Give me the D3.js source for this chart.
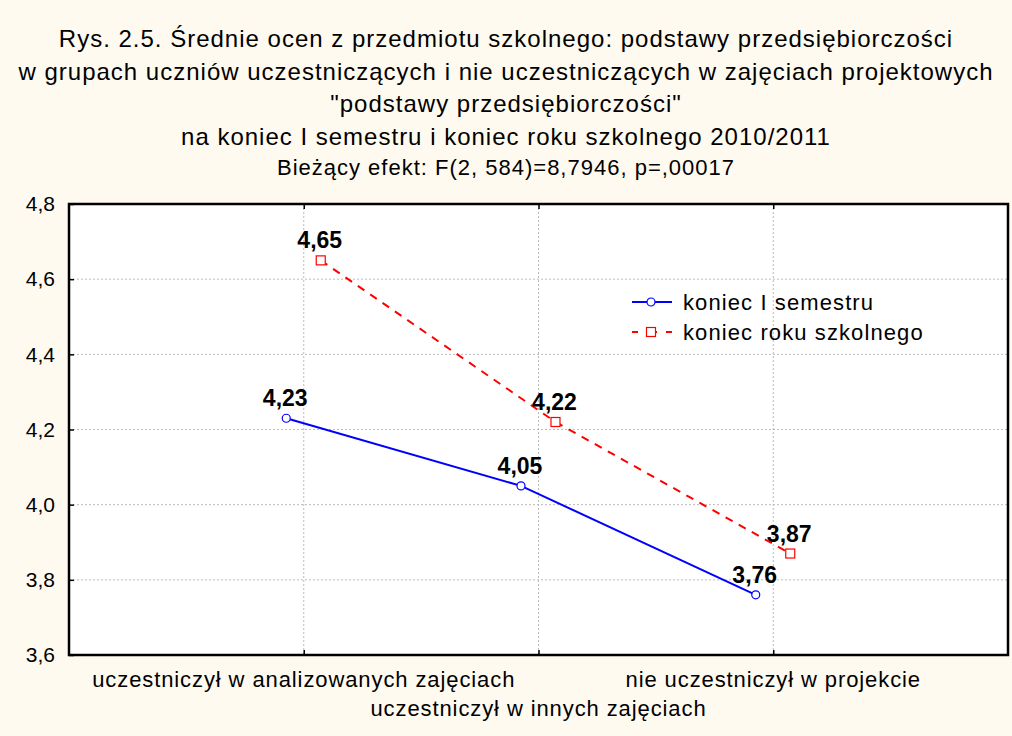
<!DOCTYPE html>
<html>
<head>
<meta charset="utf-8">
<script src="https://cdn.jsdelivr.net/npm/d3@7"></script>
<style>
  body { margin: 0; background: #fffaf0; }
  svg { display: block; font-family: "Liberation Sans", Arial, sans-serif; }
</style>
</head>
<body>
<svg id="chart" width="1012" height="736"></svg>
<script>
const titleLines = [
  "Rys. 2.5. Średnie ocen z przedmiotu szkolnego: podstawy przedsiębiorczości",
  "w grupach uczniów uczestniczących i nie uczestniczących w zajęciach projektowych",
  "\"podstawy przedsiębiorczości\"",
  "na koniec I semestru i koniec roku szkolnego 2010/2011"
];
const subtitle = "Bieżący efekt: F(2, 584)=8,7946, p=,00017";

const categories = [
  "uczestniczył w analizowanych zajęciach",
  "uczestniczył w innych zajęciach",
  "nie uczestniczył w projekcie"
];
const seriesNames = ["koniec I semestru", "koniec roku szkolnego"];
const semesterValues = [4.23, 4.05, 3.76];
const yearValues = [4.65, 4.22, 3.87];
const yTicks = [3.6, 3.8, 4.0, 4.2, 4.4, 4.6, 4.8];

const svg = d3.select("#chart");
const width = 1012;
const height = 736;
const margin = { top: 204, right: 4, bottom: 81, left: 69 };

svg.append("rect")
  .attr("width", width)
  .attr("height", height)
  .attr("fill", "#fffaf0");

const x = d3.scalePoint()
  .domain(categories)
  .range([margin.left, width - margin.right])
  .padding(1);

const y = d3.scaleLinear()
  .domain([3.6, 4.8])
  .range([height - margin.bottom, margin.top]);

const fmt = (v) => d3.format(".1f")(v).replace(".", ",");
const fmt2 = (v) => d3.format(".2f")(v).replace(".", ",");

// plot background
svg.append("rect")
  .attr("x", margin.left)
  .attr("y", margin.top)
  .attr("width", width - margin.left - margin.right)
  .attr("height", height - margin.top - margin.bottom)
  .attr("fill", "white");

// grid
svg.append("g")
  .selectAll("line")
  .data(yTicks.slice(1, -1))
  .join("line")
  .attr("x1", margin.left)
  .attr("x2", width - margin.right)
  .attr("y1", (d) => y(d))
  .attr("y2", (d) => y(d))
  .attr("stroke", "#bbb")
  .attr("stroke-dasharray", "2,2");

svg.append("g")
  .selectAll("line")
  .data(categories)
  .join("line")
  .attr("x1", (d) => x(d))
  .attr("x2", (d) => x(d))
  .attr("y1", margin.top)
  .attr("y2", height - margin.bottom)
  .attr("stroke", "#bbb")
  .attr("stroke-dasharray", "2,2");

// axes
const yAxis = svg.append("g")
  .attr("transform", `translate(${margin.left},0)`)
  .call(d3.axisLeft(y).tickValues(yTicks).tickFormat(fmt).tickSize(-5).tickPadding(14));

svg.append("g")
  .attr("transform", `translate(0,${height - margin.bottom})`)
  .call(d3.axisBottom(x).tickSize(-5).tickFormat(""));

svg.append("g")
  .attr("transform", `translate(0,${margin.top})`)
  .call(d3.axisTop(x).tickSize(-5).tickFormat(""));

svg.selectAll(".domain").remove();
svg.selectAll(".tick line").attr("stroke", "#000").attr("stroke-width", 1.5);
yAxis.selectAll(".tick text")
  .attr("font-size", 21)
  .attr("fill", "#000")
  .attr("font-family", "Liberation Sans, Arial, sans-serif");

// category labels, staggered
svg.append("g")
  .selectAll("text")
  .data(categories)
  .join("text")
  .attr("x", (d) => x(d))
  .attr("y", (d, i) => (i % 2 === 0 ? 687 : 716))
  .attr("text-anchor", "middle")
  .attr("font-size", 22)
  .attr("letter-spacing", 0.9)
  .attr("fill", "#000")
  .text((d) => d);

// frame
svg.append("rect")
  .attr("x", margin.left)
  .attr("y", margin.top)
  .attr("width", width - margin.left - margin.right)
  .attr("height", height - margin.top - margin.bottom)
  .attr("fill", "none")
  .attr("stroke", "#000")
  .attr("stroke-width", 2.5);

// series
const series = [
  { name: seriesNames[0], values: semesterValues, color: "#0000ff", dash: null, offset: -17.5, marker: "circle" },
  { name: seriesNames[1], values: yearValues, color: "#ff0000", dash: "8,7", offset: 17, marker: "square" }
];

const line = d3.line();

series.forEach((s) => {
  const pts = s.values.map((v, i) => [x(categories[i]) + s.offset, y(v)]);
  svg.append("path")
    .attr("d", line(pts))
    .attr("fill", "none")
    .attr("stroke", s.color)
    .attr("stroke-width", 2)
    .attr("stroke-dasharray", s.dash);

  const g = svg.append("g");
  pts.forEach(([px, py], i) => {
    if (s.marker === "circle") {
      g.append("circle")
        .attr("cx", px).attr("cy", py).attr("r", 4)
        .attr("fill", "white").attr("stroke", s.color).attr("stroke-width", 1.2);
    } else {
      g.append("rect")
        .attr("x", px - 4.5).attr("y", py - 4.5).attr("width", 9).attr("height", 9)
        .attr("fill", "white").attr("stroke", s.color).attr("stroke-width", 1.2);
    }
    g.append("text")
      .attr("x", px - 1)
      .attr("y", py - 12)
      .attr("text-anchor", "middle")
      .attr("font-size", 23)
      .attr("font-weight", "bold")
      .attr("fill", "#000")
      .text(fmt2(s.values[i]));
  });
});

// legend
const legend = svg.append("g").attr("transform", "translate(632,302)");
series.forEach((s, i) => {
  const row = legend.append("g").attr("transform", `translate(0,${i * 30})`);
  row.append("line")
    .attr("x1", 0).attr("x2", 40)
    .attr("stroke", s.color).attr("stroke-width", 2)
    .attr("stroke-dasharray", s.dash ? "6,9,10,9,6" : null);
  if (s.marker === "circle") {
    row.append("circle").attr("cx", 19).attr("r", 4)
      .attr("fill", "white").attr("stroke", s.color).attr("stroke-width", 1.2);
  } else {
    row.append("rect").attr("x", 14.5).attr("y", -4.5).attr("width", 9).attr("height", 9)
      .attr("fill", "white").attr("stroke", s.color).attr("stroke-width", 1.2);
  }
  row.append("text")
    .attr("x", 51).attr("y", 8)
    .attr("font-size", 22)
    .attr("letter-spacing", 1.1)
    .attr("fill", "#000")
    .text(s.name);
});

// title
const title = svg.append("g");
const titleBaselines = [47, 80, 112, 145];
titleLines.forEach((t, i) => {
  title.append("text")
    .attr("x", 506)
    .attr("y", titleBaselines[i])
    .attr("text-anchor", "middle")
    .attr("font-size", 24)
    .attr("letter-spacing", 1)
    .attr("fill", "#000")
    .text(t);
});
title.append("text")
  .attr("x", 506)
  .attr("y", 175)
  .attr("text-anchor", "middle")
  .attr("font-size", 22)
  .attr("letter-spacing", 1)
  .attr("fill", "#000")
  .text(subtitle);
</script>
</body>
</html>
